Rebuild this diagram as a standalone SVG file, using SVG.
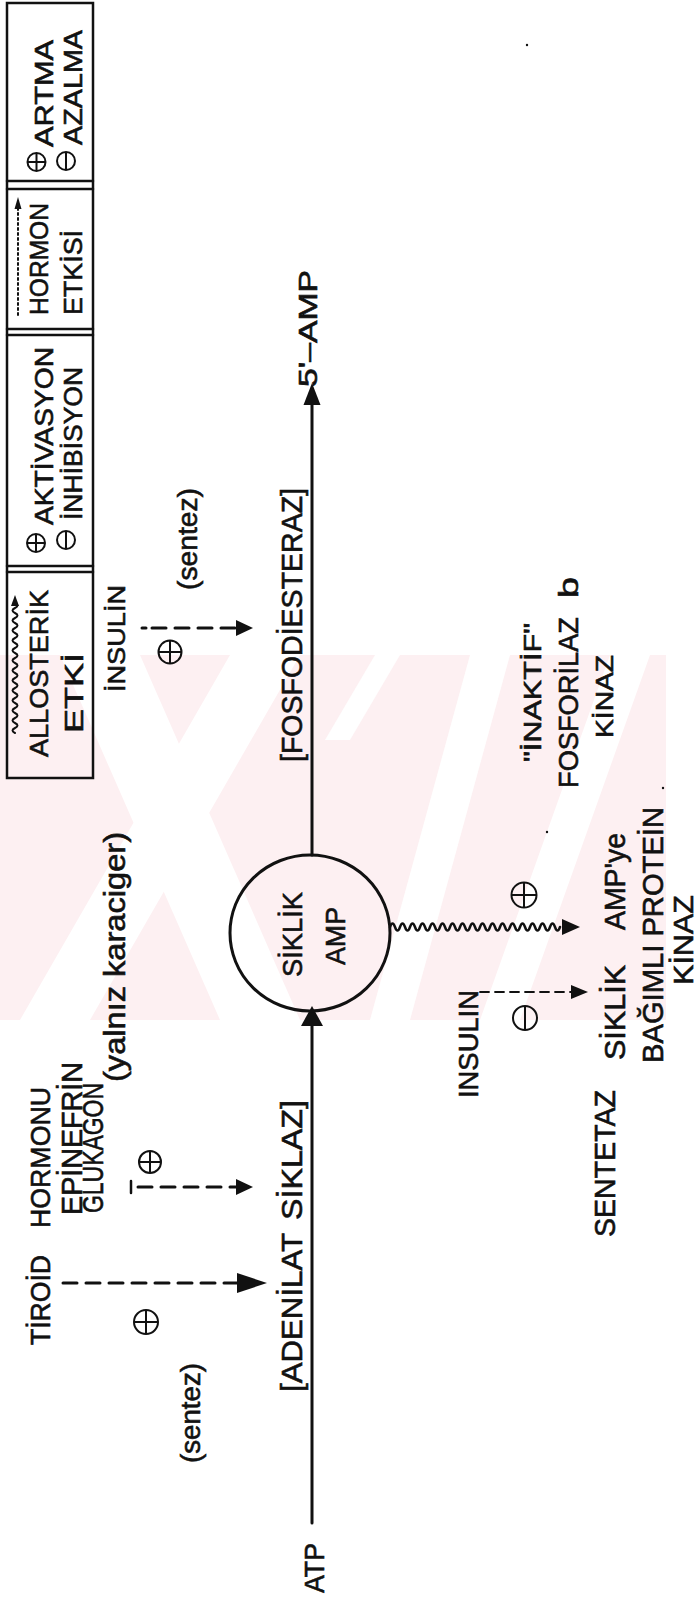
<svg xmlns="http://www.w3.org/2000/svg" width="696" height="1604" viewBox="0 0 696 1604">
<style>
.t{font-family:"Liberation Sans",Arial,sans-serif;fill:#111;stroke:#111;stroke-width:0.6}
.ln{stroke:#111;fill:none;stroke-linecap:round}
.sym{stroke:#111;fill:none;stroke-width:2}
.hd{fill:#111;stroke:none}
.wm{fill:#fdf0f2}
.wh{fill:#ffffff}
</style>
<defs>
<clipPath id="band"><rect x="0" y="655" width="666" height="365"/></clipPath>
</defs>
<rect width="696" height="1604" fill="#fff"/>
<g id="watermark" clip-path="url(#band)">
<rect class="wm" x="0" y="655" width="666" height="365"/>
<polygon class="wh" points="60,655 140,655 300,1020 220,1020"/>
<polygon class="wh" points="230,655 300,655 90,1020 20,1020"/>
<polygon class="wh" points="375,655 400,655 350,740 325,740"/>
<polygon class="wh" points="470,655 510,655 410,1020 370,1020"/>
<polygon class="wh" points="610,655 650,655 520,1020 480,1020"/>
</g>
<g id="legend">
<rect x="7" y="3" width="86" height="775" class="ln" stroke-width="2.5"/>
<line x1="7" y1="181" x2="93" y2="181" class="ln" stroke-width="2.5"/>
<line x1="7" y1="189" x2="93" y2="189" class="ln" stroke-width="2.5"/>
<line x1="7" y1="329" x2="93" y2="329" class="ln" stroke-width="2.5"/>
<line x1="7" y1="335" x2="93" y2="335" class="ln" stroke-width="2.5"/>
<line x1="7" y1="566" x2="93" y2="566" class="ln" stroke-width="2.5"/>
<line x1="7" y1="572" x2="93" y2="572" class="ln" stroke-width="2.5"/>
<g id="leg-artma">
<g class="sym"><circle cx="36.5" cy="162" r="9"/><path d="M27.5,162 H45.5 M36.5,153 V171"/></g>
<text class="t" font-size="26" transform="translate(53,147) rotate(-90)" textLength="107" lengthAdjust="spacingAndGlyphs">ARTMA</text>
<g class="sym"><circle cx="66" cy="161" r="9"/><path d="M66,152 V170"/></g>
<text class="t" font-size="26" transform="translate(82,145) rotate(-90)" textLength="115" lengthAdjust="spacingAndGlyphs">AZALMA</text>
</g>
<g id="leg-hormon">
<line x1="18" y1="315" x2="18" y2="207" class="ln" stroke-width="2" stroke-dasharray="2 3"/>
<polygon class="hd" points="18,197 14.5,209 21.5,209"/>
<text class="t" font-size="26" transform="translate(48,315) rotate(-90)" textLength="112" lengthAdjust="spacingAndGlyphs">HORMON</text>
<text class="t" font-size="26" transform="translate(82,315) rotate(-90)" textLength="85" lengthAdjust="spacingAndGlyphs">ETKİSİ</text>
</g>
<g id="leg-aktivasyon">
<g class="sym"><circle cx="36" cy="543" r="9"/><path d="M27,543 H45 M36,534 V552"/></g>
<text class="t" font-size="26" transform="translate(53,525) rotate(-90)" textLength="178" lengthAdjust="spacingAndGlyphs">AKTİVASYON</text>
<g class="sym"><circle cx="66" cy="540" r="9"/><path d="M66,531 V549"/></g>
<text class="t" font-size="26" transform="translate(82,520) rotate(-90)" textLength="153" lengthAdjust="spacingAndGlyphs">İNHİBİSYON</text>
</g>
<g id="leg-allosterik">
<path class="ln" stroke-width="2" d="M15,733 q-5,-2.5 0,-5 t0,-5 t0,-5 t0,-5 t0,-5 t0,-5 t0,-5 t0,-5 t0,-5 t0,-5 t0,-5 t0,-5 t0,-5 t0,-5 t0,-5 t0,-5 t0,-5 t0,-5 t0,-5 t0,-5 t0,-5 t0,-5 t0,-5 t0,-5 t0,-5 t0,-5"/>
<polygon class="hd" points="15,595 11,606 19,606"/>
<text class="t" font-size="26" transform="translate(48,757) rotate(-90)" textLength="167" lengthAdjust="spacingAndGlyphs">ALLOSTERİK</text>
<text class="t" font-size="26" transform="translate(83,733) rotate(-90)" textLength="80" lengthAdjust="spacingAndGlyphs">ETKİ</text>
</g>
</g>
<g id="connectors">
<line x1="312" y1="855" x2="312" y2="400" class="ln" stroke-width="3"/>
<polygon class="hd" points="312,383 303.5,405 320.5,405"/>
<line x1="312" y1="1523" x2="312" y2="1022" class="ln" stroke-width="3"/>
<polygon class="hd" points="312,1006 301,1026 323,1026"/>
<line x1="142" y1="628" x2="146" y2="628" class="ln" stroke-width="3"/>
<line x1="152" y1="628" x2="238" y2="628" class="ln" stroke-width="3" stroke-dasharray="14 9"/>
<polygon class="hd" points="253,628 236,620 236,636"/>
<line x1="131" y1="1181" x2="131" y2="1193" class="ln" stroke-width="2.5"/>
<line x1="138" y1="1187" x2="238" y2="1187" class="ln" stroke-width="3" stroke-dasharray="14 9"/>
<polygon class="hd" points="253,1187 236,1179 236,1195"/>
<line x1="63" y1="1283" x2="237" y2="1283" class="ln" stroke-width="3" stroke-dasharray="14 9"/>
<polygon class="hd" points="267,1283 237,1273 237,1293"/>
<path class="ln" stroke-width="2.5" d="M390,927 q2.5,-7 5,0 t5,0 t5,0 t5,0 t5,0 t5,0 t5,0 t5,0 t5,0 t5,0 t5,0 t5,0 t5,0 t5,0 t5,0 t5,0 t5,0 t5,0 t5,0 t5,0 t5,0 t5,0 t5,0 t5,0 t5,0 t5,0 t5,0 t5,0 t5,0 t5,0 t5,0 t5,0 t5,0 t5,0"/>
<polygon class="hd" points="580,927 562,919 562,935"/>
<line x1="480" y1="992" x2="572" y2="992" class="ln" stroke-width="1.8" stroke-dasharray="9 6"/>
<polygon class="hd" points="588,992 571,985 571,999"/>
</g>
<g id="n-camp">
<ellipse cx="310" cy="933" rx="80" ry="78" class="ln" stroke-width="3"/>
<text class="t" font-size="28" transform="translate(302,977) rotate(-90)" textLength="85" lengthAdjust="spacingAndGlyphs">SİKLİK</text>
<text class="t" font-size="28" transform="translate(345,965) rotate(-90)" textLength="58" lengthAdjust="spacingAndGlyphs">AMP</text>
</g>
<g id="n-5amp">
<text class="t" font-size="25" transform="translate(317,387) rotate(-90)" textLength="117" lengthAdjust="spacingAndGlyphs">5'–AMP</text>
</g>
<g id="n-atp">
<text class="t" font-size="28" transform="translate(324,1593) rotate(-90)" textLength="50" lengthAdjust="spacingAndGlyphs">ATP</text>
</g>
<g id="n-fosfodiesteraz">
<text class="t" font-size="30" transform="translate(302,762) rotate(-90)" textLength="274" lengthAdjust="spacingAndGlyphs">[FOSFODİESTERAZ]</text>
</g>
<g id="n-adenilat">
<text class="t" font-size="30" transform="translate(302,1392) rotate(-90)" textLength="159" lengthAdjust="spacingAndGlyphs">[ADENİLAT</text>
<text class="t" font-size="30" transform="translate(302,1220) rotate(-90)" textLength="120" lengthAdjust="spacingAndGlyphs">SİKLAZ]</text>
</g>
<g id="n-insulin1">
<text class="t" font-size="24" transform="translate(125,692) rotate(-90)" textLength="107" lengthAdjust="spacingAndGlyphs">İNSULİN</text>
<g class="sym"><circle cx="170" cy="652" r="11.5"/><path d="M158.5,652 H181.5 M170,640.5 V663.5"/></g>
<text class="t" font-size="27" transform="translate(197,590) rotate(-90)" textLength="102" lengthAdjust="spacingAndGlyphs">(sentez)</text>
</g>
<g id="n-hormones">
<text class="t" font-size="28" transform="translate(50,1345) rotate(-90)" textLength="90" lengthAdjust="spacingAndGlyphs">TİROİD</text>
<text class="t" font-size="28" transform="translate(50,1228) rotate(-90)" textLength="141" lengthAdjust="spacingAndGlyphs">HORMONU</text>
<text class="t" font-size="29" transform="translate(82,1215) rotate(-90)" textLength="153" lengthAdjust="spacingAndGlyphs">EPİNEFRİN</text>
<text class="t" font-size="29" transform="translate(103,1213) rotate(-90)" textLength="130" lengthAdjust="spacingAndGlyphs">GLUKAGON</text>
<text class="t" font-size="29" transform="translate(125,1082) rotate(-90)" textLength="250" lengthAdjust="spacingAndGlyphs">(yalnız karaciger)</text>
<g class="sym"><circle cx="150" cy="1162" r="11"/><path d="M139,1162 H161 M150,1151 V1173"/></g>
<g class="sym"><circle cx="146" cy="1322" r="12"/><path d="M134,1322 H158 M146,1310 V1334"/></g>
<text class="t" font-size="27" transform="translate(200,1463) rotate(-90)" textLength="100" lengthAdjust="spacingAndGlyphs">(sentez)</text>
</g>
<g id="n-inaktif">
<g class="sym"><circle cx="524" cy="895" r="12.5"/><path d="M511.5,895 H536.5 M524,882.5 V907.5"/></g>
<text class="t" font-size="24" transform="translate(541,762) rotate(-90)" textLength="139" lengthAdjust="spacingAndGlyphs">"İNAKTİF"</text>
<text class="t" font-size="28" transform="translate(578,788) rotate(-90)" textLength="171" lengthAdjust="spacingAndGlyphs">FOSFORİLAZ</text>
<text class="t" font-size="28" transform="translate(578,598) rotate(-90)" textLength="21" lengthAdjust="spacingAndGlyphs">b</text>
<text class="t" font-size="24" transform="translate(613,738) rotate(-90)" textLength="83" lengthAdjust="spacingAndGlyphs">KİNAZ</text>
</g>
<g id="n-insulin2">
<text class="t" font-size="27" transform="translate(478,1098) rotate(-90)" textLength="108" lengthAdjust="spacingAndGlyphs">INSULIN</text>
<g class="sym"><circle cx="525" cy="1018" r="12"/><path d="M525,1006 V1030"/></g>
</g>
<g id="n-proteinkinaz">
<text class="t" font-size="29" transform="translate(625,1060) rotate(-90)" textLength="95" lengthAdjust="spacingAndGlyphs">SİKLİK</text>
<text class="t" font-size="29" transform="translate(625,930) rotate(-90)" textLength="97" lengthAdjust="spacingAndGlyphs">AMP'ye</text>
<text class="t" font-size="29" transform="translate(663,1063) rotate(-90)" textLength="256" lengthAdjust="spacingAndGlyphs">BAĞIMLI PROTEİN</text>
<text class="t" font-size="28" transform="translate(693,985) rotate(-90)" textLength="90" lengthAdjust="spacingAndGlyphs">KİNAZ</text>
</g>
<g id="n-sentetaz">
<text class="t" font-size="30" transform="translate(615,1237) rotate(-90)" textLength="147" lengthAdjust="spacingAndGlyphs">SENTETAZ</text>
</g>
<g id="specks">
<circle cx="527" cy="45" r="1.2" fill="#111"/>
<circle cx="547" cy="832" r="1.2" fill="#111"/>
<circle cx="663" cy="788" r="1.2" fill="#111"/>
</g>
</svg>
